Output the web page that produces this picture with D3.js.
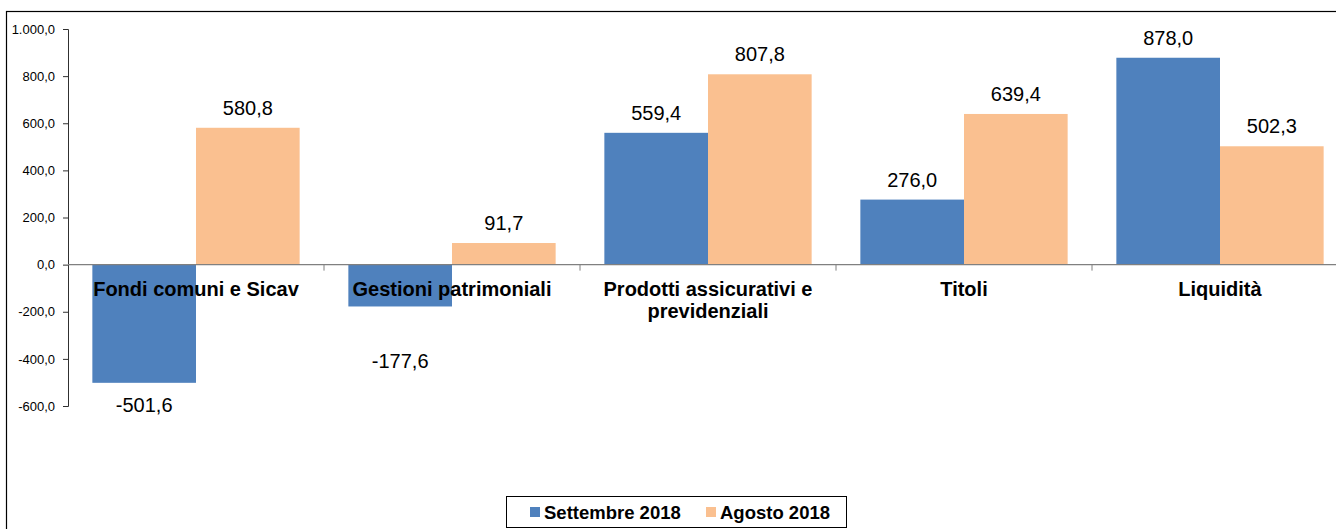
<!DOCTYPE html>
<html><head><meta charset="utf-8">
<script src="https://cdn.jsdelivr.net/npm/d3@7"></script>
<style>
body{margin:0;background:#fff;}
svg{display:block;font-family:"Liberation Sans",Arial,sans-serif;}
</style></head>
<body><svg id="c" width="1336" height="529"></svg>
<script>
const categories = ["Fondi comuni e Sicav", "Gestioni patrimoniali", "Prodotti assicurativi e previdenziali", "Titoli", "Liquidità"];
const categoryLines = [["Fondi comuni e Sicav"], ["Gestioni patrimoniali"], ["Prodotti assicurativi e", "previdenziali"], ["Titoli"], ["Liquidità"]];
const seriesNames = ["Settembre 2018", "Agosto 2018"];
const settembre2018 = [-501.6, -177.6, 559.4, 276.0, 878.0];
const agosto2018 = [580.8, 91.7, 807.8, 639.4, 502.3];
const yTicks = [-600, -400, -200, 0, 200, 400, 600, 800, 1000];
const colors = ["#4F81BD", "#FAC090"];

const svg = d3.select("#c");
const fmt = v => {
  const s = Math.abs(v).toFixed(1).split(".");
  const int = s[0].replace(/\B(?=(\d{3})+(?!\d))/g, ".");
  return (v < 0 ? "-" : "") + int + "," + s[1];
};

// outer frame
svg.append("rect").attr("x", 6.5).attr("y", 11.5).attr("width", 1400).attr("height", 600)
  .attr("fill", "none").attr("stroke", "#000").attr("stroke-width", 1.2);

const x0 = 68, bandW = 256;
const x = d3.scaleBand().domain(categories).range([x0, x0 + bandW * categories.length]).padding(0);
const xs = d3.scaleBand().domain(seriesNames).range([0, bandW]).paddingInner(0).paddingOuter(0.235);
const y = d3.scaleLinear().domain([-600, 1000]).range([406, 29]);

const series = [settembre2018, agosto2018];
series.forEach((vals, si) => {
  svg.append("g").selectAll("rect").data(vals).join("rect")
    .attr("x", (d, i) => x(categories[i]) + xs(seriesNames[si]))
    .attr("width", xs.bandwidth())
    .attr("y", d => y(Math.max(0, d)))
    .attr("height", d => Math.abs(y(d) - y(0)))
    .attr("fill", colors[si]);
});

// y axis
const yAxis = d3.axisLeft(y).tickValues(yTicks).tickFormat(fmt).tickSize(5).tickPadding(8);
const gy = svg.append("g").attr("transform", `translate(${x0},0)`).call(yAxis);
gy.select(".domain").attr("stroke", "#303030");
gy.selectAll(".tick line").attr("stroke", "#303030");
gy.selectAll(".tick text").attr("font-size", 13).attr("fill", "#000").attr("font-family", "Liberation Sans, Arial, sans-serif");

// x axis line at zero
const xAxisLine = svg.append("g");
xAxisLine.append("line").attr("x1", x0).attr("x2", 1336).attr("y1", y(0)).attr("y2", y(0))
  .attr("stroke", "#808080").attr("stroke-width", 1.3);
xAxisLine.selectAll("line.tk").data(categories.slice(1)).join("line").attr("class", "tk")
  .attr("x1", d => x(d)).attr("x2", d => x(d)).attr("y1", y(0)).attr("y2", y(0) + 6)
  .attr("stroke", "#808080");

// category labels
categories.forEach((c, i) => {
  const t = svg.append("text").attr("text-anchor", "middle").attr("font-weight", "bold")
    .attr("font-size", 20).attr("fill", "#000")
    .attr("x", x(c) + bandW / 2).attr("y", 296);
  categoryLines[i].forEach((ln, j) => {
    t.append("tspan").attr("x", x(c) + bandW / 2).attr("dy", j === 0 ? 0 : 22).text(ln);
  });
});

// value labels
series.forEach((vals, si) => {
  svg.append("g").selectAll("text").data(vals).join("text")
    .attr("text-anchor", "middle").attr("font-size", 20).attr("fill", "#000")
    .attr("x", (d, i) => x(categories[i]) + xs(seriesNames[si]) + xs.bandwidth() / 2)
    .attr("y", d => d >= 0 ? y(d) - 13 : Math.max(y(d) + 29, 368))
    .text(fmt);
});

// legend
const lg = svg.append("g");
lg.append("rect").attr("x", 506.5).attr("y", 496.5).attr("width", 340).attr("height", 31)
  .attr("fill", "#fff").attr("stroke", "#000").attr("stroke-width", 1);
const legX = [530, 706];
seriesNames.forEach((n, i) => {
  lg.append("rect").attr("x", legX[i]).attr("y", 507).attr("width", 10).attr("height", 10).attr("fill", colors[i]);
  lg.append("text").attr("x", legX[i] + 14).attr("y", 518.5).attr("font-size", 18.5).attr("font-weight", "bold")
    .attr("fill", "#000").text(n);
});
</script></body></html>
